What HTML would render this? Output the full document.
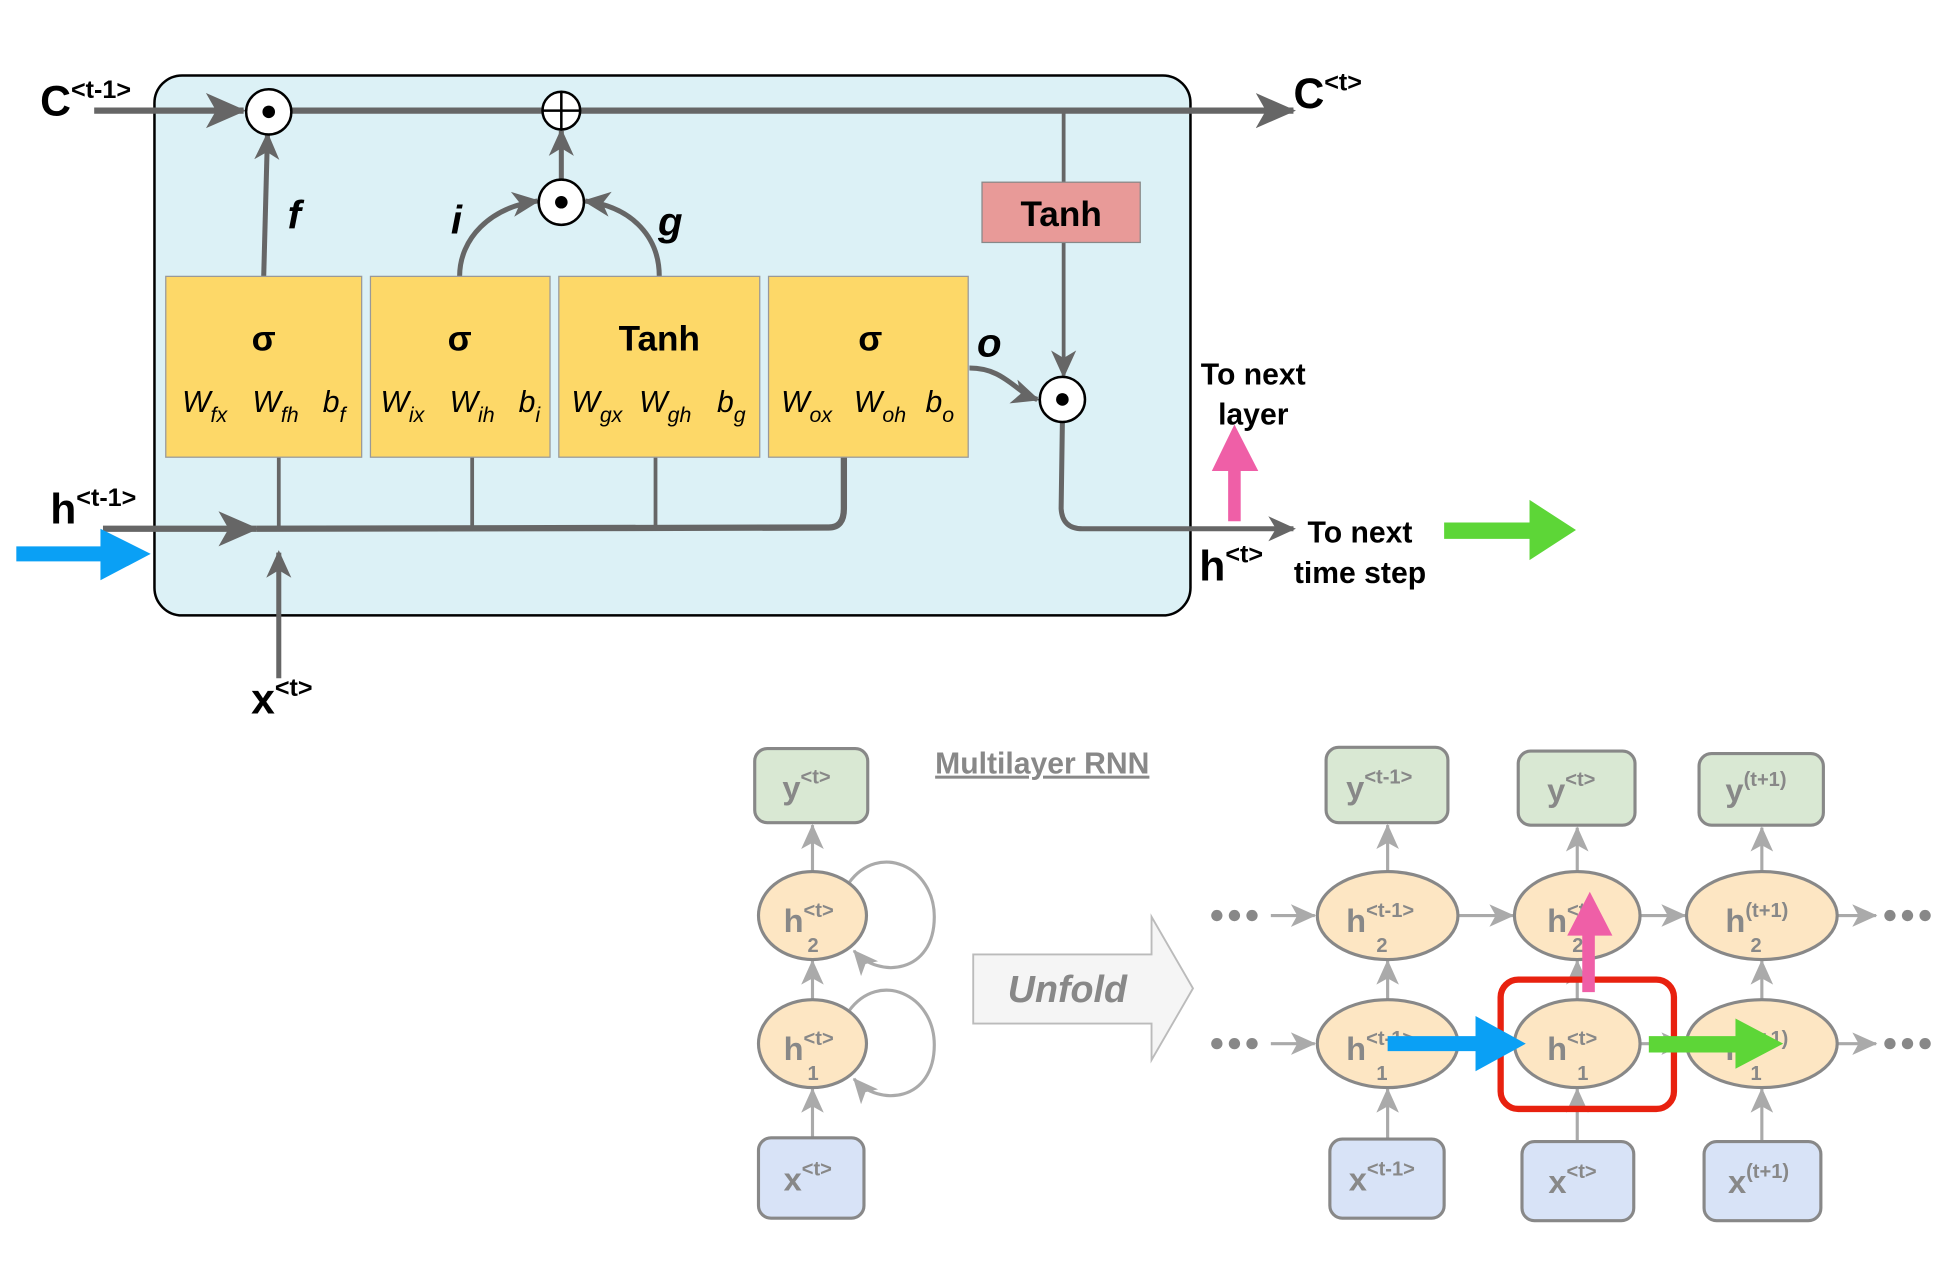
<!DOCTYPE html>
<html><head><meta charset="utf-8"><style>
html,body{margin:0;padding:0;background:#fff}
svg{display:block}
text{font-family:"Liberation Sans",sans-serif}
.b{font-weight:bold}
.w{font-family:"Liberation Serif",serif;font-style:italic;font-size:24px}
.g{fill:#888;font-weight:bold}
</style></head><body>
<svg width="1959" height="1261" viewBox="0 0 1560 1004" xmlns="http://www.w3.org/2000/svg">
<defs>
<marker id="ah" markerWidth="10" markerHeight="10" refX="8" refY="5" orient="auto" markerUnits="userSpaceOnUse" viewBox="0 0 10 10"><path d="M0,0 L10,5 L0,10 L3,5z" fill="#666"/></marker>
<marker id="ahb" markerWidth="34" markerHeight="34" refX="30" refY="17" orient="auto" markerUnits="userSpaceOnUse" viewBox="0 0 34 34"><path d="M0,3 L32,17 L0,31 L8,17z" fill="#666"/></marker>
<marker id="ahm" markerWidth="24" markerHeight="24" refX="20" refY="12" orient="auto" markerUnits="userSpaceOnUse" viewBox="0 0 24 24"><path d="M0,2 L22,12 L0,22 L6,12z" fill="#666"/></marker>
<marker id="ag" markerWidth="22" markerHeight="22" refX="19" refY="11" orient="auto" markerUnits="userSpaceOnUse" viewBox="0 0 22 22"><path d="M0,2 L20,11 L0,20 L5,11z" fill="#aaa"/></marker>
</defs>
<rect x="123" y="60" width="825" height="430" rx="22" fill="#dcf1f6" stroke="#000" stroke-width="2"/>
<g stroke="#666" fill="none">
<line x1="75" y1="88" x2="194" y2="88" stroke-width="5" marker-end="url(#ahb)"/>
<line x1="232" y1="88" x2="1030" y2="88" stroke-width="5" marker-end="url(#ahb)"/>
<line x1="210" y1="220" x2="213" y2="107" stroke-width="4" marker-end="url(#ahm)"/>
<path d="M366,220 C366,190 390,165 428,160" stroke-width="4" marker-end="url(#ahm)"/>
<path d="M525,220 C525,190 505,165 466,160" stroke-width="4" marker-end="url(#ahm)"/>
<line x1="447" y1="143" x2="447" y2="104" stroke-width="4" marker-end="url(#ahm)"/>
<line x1="847" y1="90" x2="847" y2="145" stroke-width="3"/>
<line x1="847" y1="193" x2="847" y2="299" stroke-width="3" marker-end="url(#ahm)"/>
<path d="M772,293 C800,293 808,312 826,318" stroke-width="4" marker-end="url(#ahm)"/>
<line x1="82" y1="421" x2="204" y2="421" stroke-width="5" marker-end="url(#ahb)"/>
<path d="M204,421 L660,420 Q672,420 672,405 L672,364" stroke-width="5"/>
<line x1="222" y1="364" x2="222" y2="421" stroke-width="3"/>
<line x1="376" y1="364" x2="376" y2="421" stroke-width="3"/>
<line x1="522" y1="364" x2="522" y2="421" stroke-width="3"/>
<line x1="222" y1="540" x2="222" y2="440" stroke-width="4" marker-end="url(#ahm)"/>
<path d="M846,336 L845,405 Q846,421 862,421 L1030,421" stroke-width="4" marker-end="url(#ahm)"/>
</g>
<g stroke="#000" stroke-width="2" fill="#fff">
<circle cx="214" cy="89" r="18"/><circle cx="447" cy="88" r="15"/><circle cx="447" cy="161" r="18"/><circle cx="846" cy="318" r="18"/>
</g>
<g fill="#000"><circle cx="214" cy="89" r="5"/><circle cx="447" cy="161" r="5"/><circle cx="846" cy="318" r="5"/></g>
<path d="M432,88 H462 M447,73 V103" stroke="#000" stroke-width="2"/>
<rect x="782" y="145" width="126" height="48" fill="#e89a98" stroke="#888"/>
<text x="845" y="180" font-size="28" class="b" text-anchor="middle">Tanh</text>
<g fill="#fdd868" stroke="#999">
<rect x="132" y="220" width="156" height="144"/><rect x="295" y="220" width="143" height="144"/>
<rect x="445" y="220" width="160" height="144"/><rect x="612" y="220" width="159" height="144"/>
</g>
<g font-size="28" class="b" text-anchor="middle">
<text x="210" y="279">σ</text><text x="366" y="279">σ</text><text x="525" y="279">Tanh</text><text x="693" y="279">σ</text>
</g>
<g class="w">
<text x="145" y="328">W<tspan font-size="17" dy="8">fx</tspan></text><text x="201" y="328">W<tspan font-size="17" dy="8">fh</tspan></text><text x="257" y="328">b<tspan font-size="17" dy="8">f</tspan></text>
<text x="303" y="328">W<tspan font-size="17" dy="8">ix</tspan></text><text x="358" y="328">W<tspan font-size="17" dy="8">ih</tspan></text><text x="413" y="328">b<tspan font-size="17" dy="8">i</tspan></text>
<text x="455" y="328">W<tspan font-size="17" dy="8">gx</tspan></text><text x="509" y="328">W<tspan font-size="17" dy="8">gh</tspan></text><text x="571" y="328">b<tspan font-size="17" dy="8">g</tspan></text>
<text x="622" y="328">W<tspan font-size="17" dy="8">ox</tspan></text><text x="680" y="328">W<tspan font-size="17" dy="8">oh</tspan></text><text x="737" y="328">b<tspan font-size="17" dy="8">o</tspan></text>
</g>
<g font-family="Liberation Serif,serif" font-style="italic" font-size="32" font-weight="bold">
<text x="229" y="182">f</text><text x="359" y="186">i</text><text x="524" y="187">g</text><text x="778" y="284">o</text>
</g>
<g class="b" font-size="34">
<text x="32" y="92">C<tspan font-size="20" dy="-14">&lt;t-1&gt;</tspan></text>
<text x="1030" y="86">C<tspan font-size="20" dy="-14">&lt;t&gt;</tspan></text>
<text x="40" y="417">h<tspan font-size="20" dy="-14">&lt;t-1&gt;</tspan></text>
<text x="955" y="462">h<tspan font-size="20" dy="-14">&lt;t&gt;</tspan></text>
<text x="200" y="568">x<tspan font-size="20" dy="-14">&lt;t&gt;</tspan></text>
</g>
<g class="b" font-size="24" text-anchor="middle">
<text x="998" y="306">To next</text><text x="998" y="338">layer</text>
<text x="1083" y="432">To next</text><text x="1083" y="464">time step</text>
</g>
<path d="M13,435 H80 V421 L120,441 L80,462 V447 H13z" fill="#0aa0f5"/>
<path d="M1150,416 H1218 V398 L1255,422 L1218,446 V429 H1150z" fill="#5dd637"/>
<path d="M978,415 V375 H965 L983,338 L1002,375 H988 V415z" fill="#ef5fa7"/>
<text x="830" y="616" font-size="24" class="g" text-anchor="middle" text-decoration="underline">Multilayer RNN</text>
<g stroke="#aaa" stroke-width="2.5" fill="none">
<line x1="647" y1="694" x2="647" y2="657" marker-end="url(#ag)"/>
<line x1="647" y1="796" x2="647" y2="765" marker-end="url(#ag)"/>
<line x1="647" y1="906" x2="647" y2="867" marker-end="url(#ag)"/>
<path d="M676,703 C700,670 744,690 744,730 C744,775 700,780 680,757" marker-end="url(#ag)"/>
<path d="M676,805 C700,772 744,792 744,832 C744,877 700,882 680,859" marker-end="url(#ag)"/>
<line x1="1105" y1="694" x2="1105" y2="657" marker-end="url(#ag)"/>
<line x1="1256" y1="694" x2="1256" y2="659" marker-end="url(#ag)"/>
<line x1="1403" y1="694" x2="1403" y2="659" marker-end="url(#ag)"/>
<line x1="1105" y1="796" x2="1105" y2="765" marker-end="url(#ag)"/>
<line x1="1256" y1="796" x2="1256" y2="765" marker-end="url(#ag)"/>
<line x1="1403" y1="796" x2="1403" y2="765" marker-end="url(#ag)"/>
<line x1="1105" y1="907" x2="1105" y2="867" marker-end="url(#ag)"/>
<line x1="1256" y1="909" x2="1256" y2="867" marker-end="url(#ag)"/>
<line x1="1403" y1="909" x2="1403" y2="867" marker-end="url(#ag)"/>
<line x1="1012" y1="729" x2="1047" y2="729" marker-end="url(#ag)"/>
<line x1="1161" y1="729" x2="1205" y2="729" marker-end="url(#ag)"/>
<line x1="1306" y1="729" x2="1342" y2="729" marker-end="url(#ag)"/>
<line x1="1463" y1="729" x2="1494" y2="729" marker-end="url(#ag)"/>
<line x1="1012" y1="831" x2="1047" y2="831" marker-end="url(#ag)"/>
<line x1="1161" y1="831" x2="1205" y2="831" marker-end="url(#ag)"/>
<line x1="1306" y1="831" x2="1342" y2="831" marker-end="url(#ag)"/>
<line x1="1463" y1="831" x2="1494" y2="831" marker-end="url(#ag)"/>
</g>
<g fill="#888"><circle cx="969" cy="729" r="4.5"/><circle cx="983" cy="729" r="4.5"/><circle cx="997" cy="729" r="4.5"/>
<circle cx="969" cy="831" r="4.5"/><circle cx="983" cy="831" r="4.5"/><circle cx="997" cy="831" r="4.5"/>
<circle cx="1505" cy="729" r="4.5"/><circle cx="1519" cy="729" r="4.5"/><circle cx="1533" cy="729" r="4.5"/>
<circle cx="1505" cy="831" r="4.5"/><circle cx="1519" cy="831" r="4.5"/><circle cx="1533" cy="831" r="4.5"/></g>
<g stroke="#888" stroke-width="2.5">
<g fill="#d9e8d3"><rect x="601" y="596" width="90" height="59" rx="10"/><rect x="1056" y="595" width="97" height="60" rx="10"/><rect x="1209" y="598" width="93" height="59" rx="10"/><rect x="1353" y="600" width="99" height="57" rx="10"/></g>
<g fill="#fde6c3"><ellipse cx="647" cy="729" rx="43" ry="35"/><ellipse cx="647" cy="831" rx="43" ry="35"/>
<ellipse cx="1105" cy="729" rx="56" ry="35"/><ellipse cx="1256" cy="729" rx="50" ry="35"/><ellipse cx="1403" cy="729" rx="60" ry="35"/>
<ellipse cx="1105" cy="831" rx="56" ry="35"/><ellipse cx="1256" cy="831" rx="50" ry="35"/><ellipse cx="1403" cy="831" rx="60" ry="35"/></g>
<g fill="#d8e3f7"><rect x="604" y="906" width="84" height="64" rx="10"/><rect x="1059" y="907" width="91" height="63" rx="10"/><rect x="1212" y="909" width="89" height="63" rx="10"/><rect x="1357" y="909" width="93" height="63" rx="10"/></g>
</g>
<g class="g" font-size="26">
<text x="623" y="636">y<tspan font-size="16" dy="-12">&lt;t&gt;</tspan></text>
<text x="1072" y="636">y<tspan font-size="16" dy="-12">&lt;t-1&gt;</tspan></text>
<text x="1232" y="638">y<tspan font-size="16" dy="-12">&lt;t&gt;</tspan></text>
<text x="1374" y="638">y<tspan font-size="16" dy="-12">(t+1)</tspan></text>
<text x="624" y="742">h<tspan font-size="16" dy="-12">&lt;t&gt;</tspan><tspan font-size="16" x="643" dy="28">2</tspan></text>
<text x="624" y="844">h<tspan font-size="16" dy="-12">&lt;t&gt;</tspan><tspan font-size="16" x="643" dy="28">1</tspan></text>
<text x="1072" y="742">h<tspan font-size="16" dy="-12">&lt;t-1&gt;</tspan><tspan font-size="16" x="1096" dy="28">2</tspan></text>
<text x="1232" y="742">h<tspan font-size="16" dy="-12">&lt;t&gt;</tspan><tspan font-size="16" x="1252" dy="28">2</tspan></text>
<text x="1374" y="742">h<tspan font-size="16" dy="-12">(t+1)</tspan><tspan font-size="16" x="1394" dy="28">2</tspan></text>
<text x="1072" y="844">h<tspan font-size="16" dy="-12">&lt;t-1&gt;</tspan><tspan font-size="16" x="1096" dy="28">1</tspan></text>
<text x="1232" y="844">h<tspan font-size="16" dy="-12">&lt;t&gt;</tspan><tspan font-size="16" x="1256" dy="28">1</tspan></text>
<text x="1374" y="844">h<tspan font-size="16" dy="-12">(t+1)</tspan><tspan font-size="16" x="1394" dy="28">1</tspan></text>
<text x="624" y="948">x<tspan font-size="16" dy="-12">&lt;t&gt;</tspan></text>
<text x="1074" y="948">x<tspan font-size="16" dy="-12">&lt;t-1&gt;</tspan></text>
<text x="1233" y="950">x<tspan font-size="16" dy="-12">&lt;t&gt;</tspan></text>
<text x="1376" y="950">x<tspan font-size="16" dy="-12">(t+1)</tspan></text>
</g>
<path d="M775,760 H917 V730 L950,787 L917,844 V815 H775z" fill="#f5f5f5" stroke="#bbb" stroke-width="1.5"/>
<text x="850" y="798" font-size="30" class="g" font-style="italic" text-anchor="middle">Unfold</text>
<rect x="1195" y="780" width="138" height="103" rx="14" fill="none" stroke="#e8210f" stroke-width="5"/>
<path d="M1260,790 V745 H1248 L1266,710 L1284,745 H1270 V790z" fill="#ef5fa7"/>
<path d="M1105,825 H1175 V809 L1215,831 L1175,853 V837 H1105z" fill="#0aa0f5"/>
<path d="M1313,825 H1382 V811 L1420,831 L1382,851 V838 H1313z" fill="#5dd637"/>
</svg>
</body></html>
